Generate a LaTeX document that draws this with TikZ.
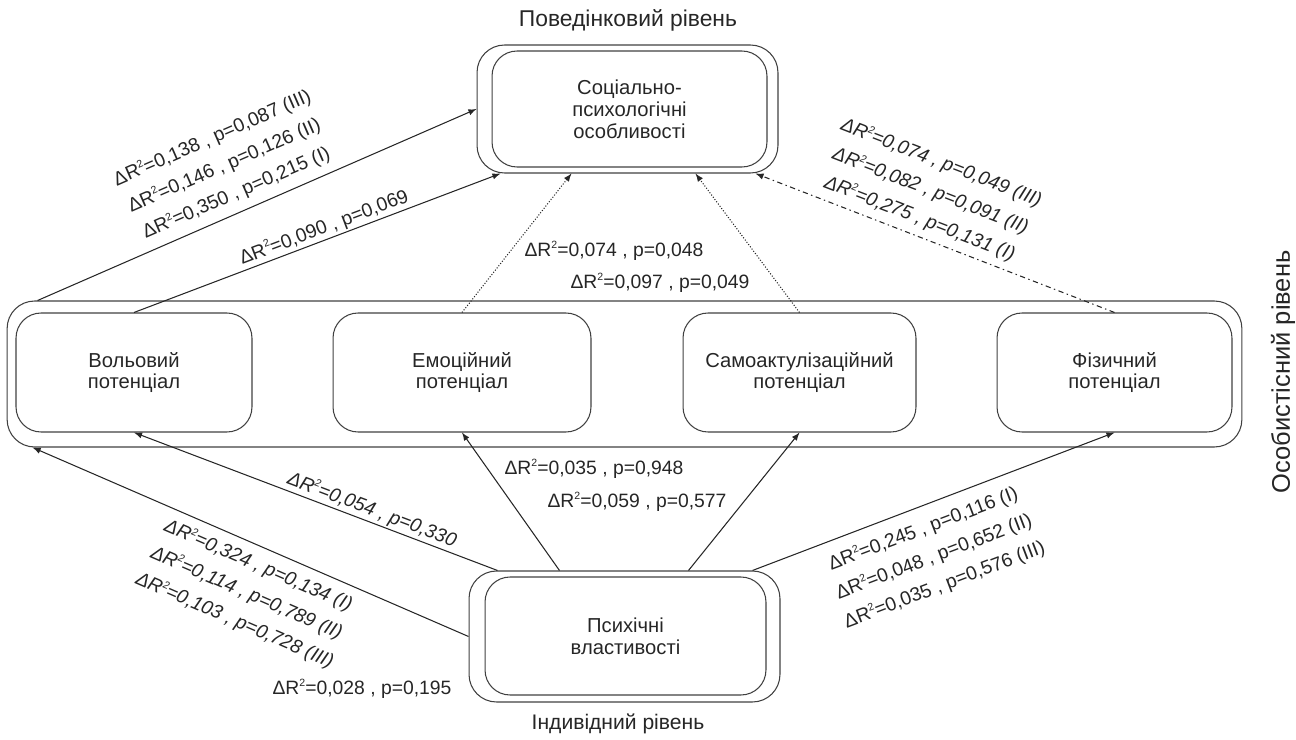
\documentclass[tikz,border=0pt]{standalone}
\usepackage{fontspec}
\setmainfont{Liberation Sans}
\usepackage{xcolor}
\usepackage{tikz}
\usetikzlibrary{positioning}

\newcommand{\dR}[2]{ΔR\raisebox{0.75ex}{\fontsize{6}{6}\selectfont 2}=#1 , p=#2}

\begin{document}
\begin{tikzpicture}[x=0.02cm, y=-0.02cm,
    inbox/.style={rectangle, draw=black!75, line width=0.6pt, rounded corners=0.5cm, align=center, inner sep=0pt, font=\fontsize{11.5}{12.4}\selectfont, text=black!85},
    outbox/.style={rectangle, draw=black!75, line width=0.6pt, rounded corners=0.55cm},
    link/.style={draw=black!85, line width=0.6pt, -latex},
    lbl/.style={font=\fontsize{11}{17}\selectfont, text=black!85, inner sep=1pt, align=center},
    title/.style={font=\fontsize{12}{14}\selectfont, text=black!85}]
    \useasboundingbox (0,0) rectangle (1296,740);

    % behaviour level
    \node(toptitle) [title, font=\fontsize{13}{15}\selectfont] at (628,20) {Поведінковий рівень};
    \node(topout) [outbox, minimum width=6.02cm, minimum height=2.56cm] at (627.5,109) {};
    \node(topin) [inbox, minimum width=5.5cm, minimum height=2.32cm] at (629.5,109) {Соціально-\\психологічні\\особливості};

    % personality level
    \node(midout) [outbox, minimum width=24.7cm, minimum height=2.92cm] at (624.5,374) {};
    \node(vol) [inbox, minimum width=4.72cm, minimum height=2.38cm] at (134,372.5) {Вольовий\\потенціал};
    \node(emo) [inbox, minimum width=5.16cm, minimum height=2.38cm] at (462,372.5) {Емоційний\\потенціал};
    \node(samo) [inbox, minimum width=4.66cm, minimum height=2.38cm] at (799.5,372.5) {Самоактулізаційний\\потенціал};
    \node(fiz) [inbox, minimum width=4.7cm, minimum height=2.38cm] at (1114.5,372.5) {Фізичний\\потенціал};
    \node(midtitle) [title, rotate=90, font=\fontsize{14.5}{16}\selectfont] at (1283,372) {Особистісний рівень};

    % individual level
    \node(botout) [outbox, minimum width=6.22cm, minimum height=2.62cm] at (624.5,636.5) {};
    \node(botin) [inbox, minimum width=5.62cm, minimum height=2.36cm] at (625.5,636) {Психічні\\властивості};
    \node(bottitle) [title] at (618,724) {Індивідний рівень};

    % upward links
    \draw[link] ([xshift=0.62cm]midout.north west) -- (topout.west)
        node(lmid) [lbl, pos=0.47, sloped, above=4pt] {\dR{0,138}{0,087 (III)}\\\dR{0,146}{0,126 (II)}\\\dR{0,350}{0,215 (I)}};
    \draw[link] (vol.north) -- ([xshift=0.48cm]topout.south west)
        node(lvol) [lbl, pos=0.53, sloped, above] {\dR{0,090}{0,069}};
    \draw[link, densely dotted] (emo.north) -- ([xshift=1.9cm]topout.south west);
    \draw[link, densely dotted] (samo.north) -- ([xshift=-1.66cm]topout.south east);
    \draw[link, dash pattern=on 3pt off 2pt on 0.8pt off 2pt] (fiz.north) -- ([xshift=-0.46cm]topout.south east)
        node(lfiz) [lbl, pos=0.56, sloped, above=3pt, font=\fontsize{11}{17}\selectfont\itshape] {\dR{0,074}{0,049 (III)}\\\dR{0,082}{0,091 (II)}\\\dR{0,275}{0,131 (I)}};
    \node(lemo) [lbl] at (614,251) {\dR{0,074}{0,048}};
    \node(lsamo) [lbl] at (660,283) {\dR{0,097}{0,049}};

    % links from the individual level
    \draw[link] (botout.west) -- ([xshift=0.52cm]midout.south west)
        node(lind) [lbl, pos=0.465, sloped, below=4pt, font=\fontsize{11}{17}\selectfont\itshape] {\dR{0,324}{0,134 (I)}\\\dR{0,114}{0,789 (II)}\\\dR{0,103}{0,728 (III)}};
    \draw[link] ([xshift=0.58cm]botout.north west) -- (vol.south)
        node(lbvol) [lbl, pos=0.357, sloped, above, font=\fontsize{11}{17}\selectfont\itshape] {\dR{0,054}{0,330}};
    \draw[link] ([xshift=1.82cm]botout.north west) -- (emo.south);
    \draw[link] ([xshift=-1.84cm]botout.north east) -- (samo.south);
    \draw[link] ([xshift=-0.56cm]botout.north east) -- (fiz.south)
        node(lbfiz) [lbl, pos=0.45, sloped, below=6pt] {\dR{0,245}{0,116 (I)}\\\dR{0,048}{0,652 (II)}\\\dR{0,035}{0,576 (III)}};
    \node(lbemo) [lbl] at (594,469) {\dR{0,035}{0,948}};
    \node(lbsamo) [lbl] at (637,502) {\dR{0,059}{0,577}};
    \node(lbmid) [lbl] at (362,689) {\dR{0,028}{0,195}};
\end{tikzpicture}
\end{document}
